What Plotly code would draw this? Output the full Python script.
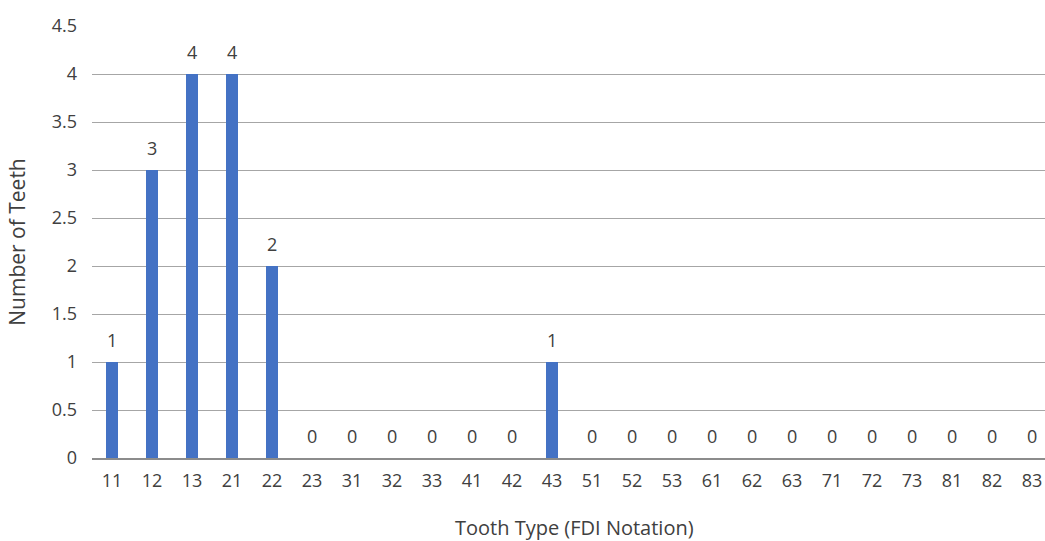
import plotly.graph_objects as go

teeth = ["11", "12", "13", "21", "22", "23", "31", "32", "33", "41", "42", "43",
         "51", "52", "53", "61", "62", "63", "71", "72", "73", "81", "82", "83"]
counts = [1, 3, 4, 4, 2, 0, 0, 0, 0, 0, 0, 1,
          0, 0, 0, 0, 0, 0, 0, 0, 0, 0, 0, 0]
y_ticks = [0, 0.5, 1, 1.5, 2, 2.5, 3, 3.5, 4, 4.5]
y_tick_text = ["0", "0.5", "1", "1.5", "2", "2.5", "3", "3.5", "4", "4.5"]

FONT = "Open Sans"
TXT = "#404040"

fig = go.Figure()
fig.add_trace(go.Bar(
    x=teeth, y=counts,
    marker=dict(color="#4472C4", line=dict(width=0)),
    width=0.3,
    hoverinfo="x+y",
))

annotations = []
for i, c in enumerate(counts):
    # category axis: numeric x is the category index
    annotations.append(dict(
        x=i, y=c, xref="x", yref="y", text=str(c), showarrow=False,
        yshift=22, yanchor="middle", xanchor="center",
        font=dict(family=FONT, size=18, color=TXT),
    ))

w_plot = 1045 - 92
h_plot = 541 - 26 - 83
annotations.append(dict(
    x=(574 - 92) / w_plot, y=-(527 - (541 - 83)) / h_plot,
    xref="paper", yref="paper", text="Tooth Type (FDI Notation)",
    xanchor="center", yanchor="middle",
    showarrow=False, font=dict(family=FONT, size=20, color=TXT),
))

fig.update_layout(
    width=1045, height=541,
    margin=dict(l=92, r=0, t=26, b=83),
    paper_bgcolor="white", plot_bgcolor="white",
    showlegend=False,
    bargap=0.7,
    font=dict(family=FONT, size=18, color=TXT),
    xaxis=dict(
        type="category",
        range=[-0.5, 23.325],
        showgrid=False,
        showline=True, linecolor="#8c8c8c", linewidth=2,
        ticks="", ticklabelstandoff=5,
        tickfont=dict(family=FONT, size=18, color=TXT),
        fixedrange=True,
    ),
    yaxis=dict(
        range=[0, 4.5],
        tickvals=y_ticks, ticktext=y_tick_text,
        showgrid=True, gridcolor="#a6a6a6", gridwidth=1,
        zeroline=False, showline=False,
        ticks="", ticklabelstandoff=14,
        tickfont=dict(family=FONT, size=18, color=TXT),
        title=dict(text="Number of Teeth", font=dict(family=FONT, size=21, color=TXT), standoff=20),
        fixedrange=True,
    ),
    annotations=annotations,
)

fig.write_html("out.html")
